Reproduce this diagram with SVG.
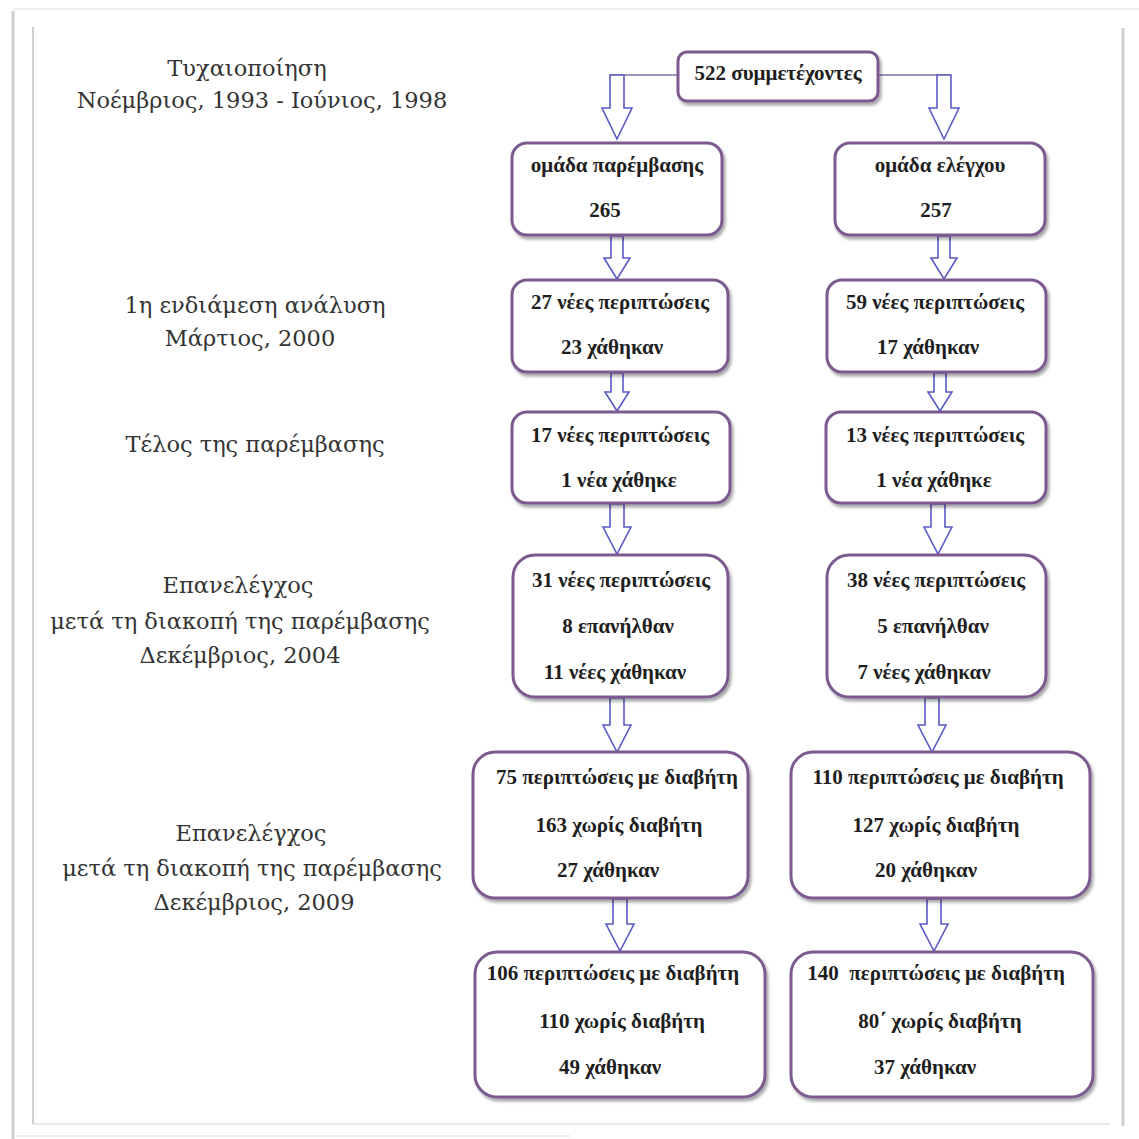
<svg xmlns="http://www.w3.org/2000/svg" width="1139" height="1139" viewBox="0 0 1139 1139">
<defs>
<filter id="sh" x="-10%" y="-10%" width="120%" height="130%">
<feDropShadow dx="2" dy="3" stdDeviation="1.5" flood-color="#000" flood-opacity="0.35"/>
</filter>
<style>
.box{fill:#fff;stroke:#7b5a8f;stroke-width:3;filter:url(#sh)}
.bt{font-family:"Liberation Serif",serif;font-weight:bold;font-size:21px;fill:#1e1e1e;text-anchor:middle}
.lab{font-family:"DejaVu Serif",serif;font-size:22.5px;fill:#333;text-anchor:middle}
.arr{fill:#fff;stroke:#5a5ac8;stroke-width:1.6;stroke-linejoin:miter}
.link{fill:none;stroke:#7a74a8;stroke-width:1.6}
.frame{fill:none;stroke:#cfcfcf}
</style>
</defs>
<rect width="1139" height="1139" fill="#fff"/>
<g id="frame">
<line class="frame" x1="13" y1="9" x2="1139" y2="9" stroke-width="2" style="stroke:#efefef"/>
<line class="frame" x1="13" y1="11" x2="13" y2="1139" stroke-width="3"/>
<line class="frame" x1="33" y1="27" x2="33" y2="1124" stroke-width="2"/>
<line class="frame" x1="33" y1="1124" x2="1110" y2="1124" stroke-width="1.5" style="stroke:#e2e2e2"/>
<line class="frame" x1="1123" y1="28" x2="1123" y2="1126" stroke-width="3"/>
<line class="frame" x1="13" y1="1136" x2="570" y2="1136" stroke-width="1.5" style="stroke:#e6e6e6"/>
</g>
<g id="labels">
<text class="lab" x="247" y="76">Τυχαιοποίηση</text>
<text class="lab" x="262" y="108">Νοέμβριος, 1993 - Ιούνιος, 1998</text>
<text class="lab" x="255" y="313">1η ενδιάμεση ανάλυση</text>
<text class="lab" x="250" y="346">Μάρτιος, 2000</text>
<text class="lab" x="255" y="452">Τέλος της παρέμβασης</text>
<text class="lab" x="238" y="593">Επανελέγχος</text>
<text class="lab" x="240" y="629">μετά τη διακοπή της παρέμβασης</text>
<text class="lab" x="240" y="663">Δεκέμβριος, 2004</text>
<text class="lab" x="251" y="841">Επανελέγχος</text>
<text class="lab" x="252" y="876">μετά τη διακοπή της παρέμβασης</text>
<text class="lab" x="254" y="910">Δεκέμβριος, 2009</text>
</g>
<g id="connectors">
<line class="link" x1="678" y1="75" x2="610" y2="75"/>
<line class="link" x1="878" y1="75" x2="951" y2="75"/>
<path class="arr" d="M610,75 V108 H602 L617,139 L632,108 H624 V75 Z"/>
<path class="arr" d="M937,75 V108 H929 L944,139 L959,108 H951 V75 Z"/>
<path class="arr" d="M611,236 V258 H604 L617,279 L630,258 H623 V236 Z"/>
<path class="arr" d="M938,236 V258 H931 L944,279 L957,258 H950 V236 Z"/>
<path class="arr" d="M611,373 V392 H605 L617,411 L629,392 H623 V373 Z"/>
<path class="arr" d="M934,373 V392 H928 L940,411 L952,392 H946 V373 Z"/>
<path class="arr" d="M610,504 V527 H603 L617,554 L631,527 H624 V504 Z"/>
<path class="arr" d="M931,504 V527 H924 L938,554 L952,527 H945 V504 Z"/>
<path class="arr" d="M610,698 V725 H603 L617,752 L631,725 H624 V698 Z"/>
<path class="arr" d="M925,698 V725 H918 L932,752 L946,725 H939 V698 Z"/>
<path class="arr" d="M613,899 V924 H606 L620,951 L634,924 H627 V899 Z"/>
<path class="arr" d="M927,899 V924 H920 L934,951 L948,924 H941 V899 Z"/>
</g>
<g id="n-top"><rect class="box" x="678" y="52" width="200" height="49" rx="9"/><text class="bt" x="778" y="80">522 συμμετέχοντες</text></g>
<g id="n-int"><rect class="box" x="512" y="143" width="210" height="92" rx="15"/><text class="bt" x="617" y="172">ομάδα παρέμβασης</text><text class="bt" x="605" y="217">265</text></g>
<g id="n-ctl"><rect class="box" x="835" y="143" width="210" height="92" rx="15"/><text class="bt" x="940" y="172">ομάδα ελέγχου</text><text class="bt" x="936" y="217">257</text></g>
<g id="n-l3"><rect class="box" x="512" y="280" width="216" height="92" rx="15"/><text class="bt" x="620" y="309">27 νέες περιπτώσεις</text><text class="bt" x="612" y="354">23 χάθηκαν</text></g>
<g id="n-r3"><rect class="box" x="827" y="280" width="219" height="92" rx="15"/><text class="bt" x="935" y="309">59 νέες περιπτώσεις</text><text class="bt" x="928" y="354">17 χάθηκαν</text></g>
<g id="n-l4"><rect class="box" x="512" y="412" width="218" height="91" rx="15"/><text class="bt" x="620" y="442">17 νέες περιπτώσεις</text><text class="bt" x="619" y="487">1 νέα χάθηκε</text></g>
<g id="n-r4"><rect class="box" x="826" y="412" width="220" height="91" rx="15"/><text class="bt" x="935" y="442">13 νέες περιπτώσεις</text><text class="bt" x="934" y="487">1 νέα χάθηκε</text></g>
<g id="n-l5"><rect class="box" x="513" y="555" width="215" height="142" rx="22"/><text class="bt" x="621" y="587">31 νέες περιπτώσεις</text><text class="bt" x="618" y="633">8 επανήλθαν</text><text class="bt" x="615" y="679">11 νέες χάθηκαν</text></g>
<g id="n-r5"><rect class="box" x="827" y="555" width="219" height="142" rx="22"/><text class="bt" x="936" y="587">38 νέες περιπτώσεις</text><text class="bt" x="933" y="633">5 επανήλθαν</text><text class="bt" x="924" y="679">7 νέες χάθηκαν</text></g>
<g id="n-l6"><rect class="box" x="473" y="752" width="275" height="146" rx="22"/><text class="bt" x="617" y="784">75 περιπτώσεις με διαβήτη</text><text class="bt" x="619" y="832">163 χωρίς διαβήτη</text><text class="bt" x="608" y="877">27 χάθηκαν</text></g>
<g id="n-r6"><rect class="box" x="791" y="752" width="299" height="146" rx="22"/><text class="bt" x="938" y="784">110 περιπτώσεις με διαβήτη</text><text class="bt" x="936" y="832">127 χωρίς διαβήτη</text><text class="bt" x="926" y="877">20 χάθηκαν</text></g>
<g id="n-l7"><rect class="box" x="475" y="952" width="290" height="145" rx="22"/><text class="bt" x="613" y="980">106 περιπτώσεις με διαβήτη</text><text class="bt" x="622" y="1028">110 χωρίς διαβήτη</text><text class="bt" x="610" y="1074">49 χάθηκαν</text></g>
<g id="n-r7"><rect class="box" x="791" y="952" width="302" height="145" rx="22"/><text class="bt" x="936" y="980" xml:space="preserve">140  περιπτώσεις με διαβήτη</text><text class="bt" x="940" y="1028">80΄ χωρίς διαβήτη</text><text class="bt" x="925" y="1074">37 χάθηκαν</text></g>
</svg>
